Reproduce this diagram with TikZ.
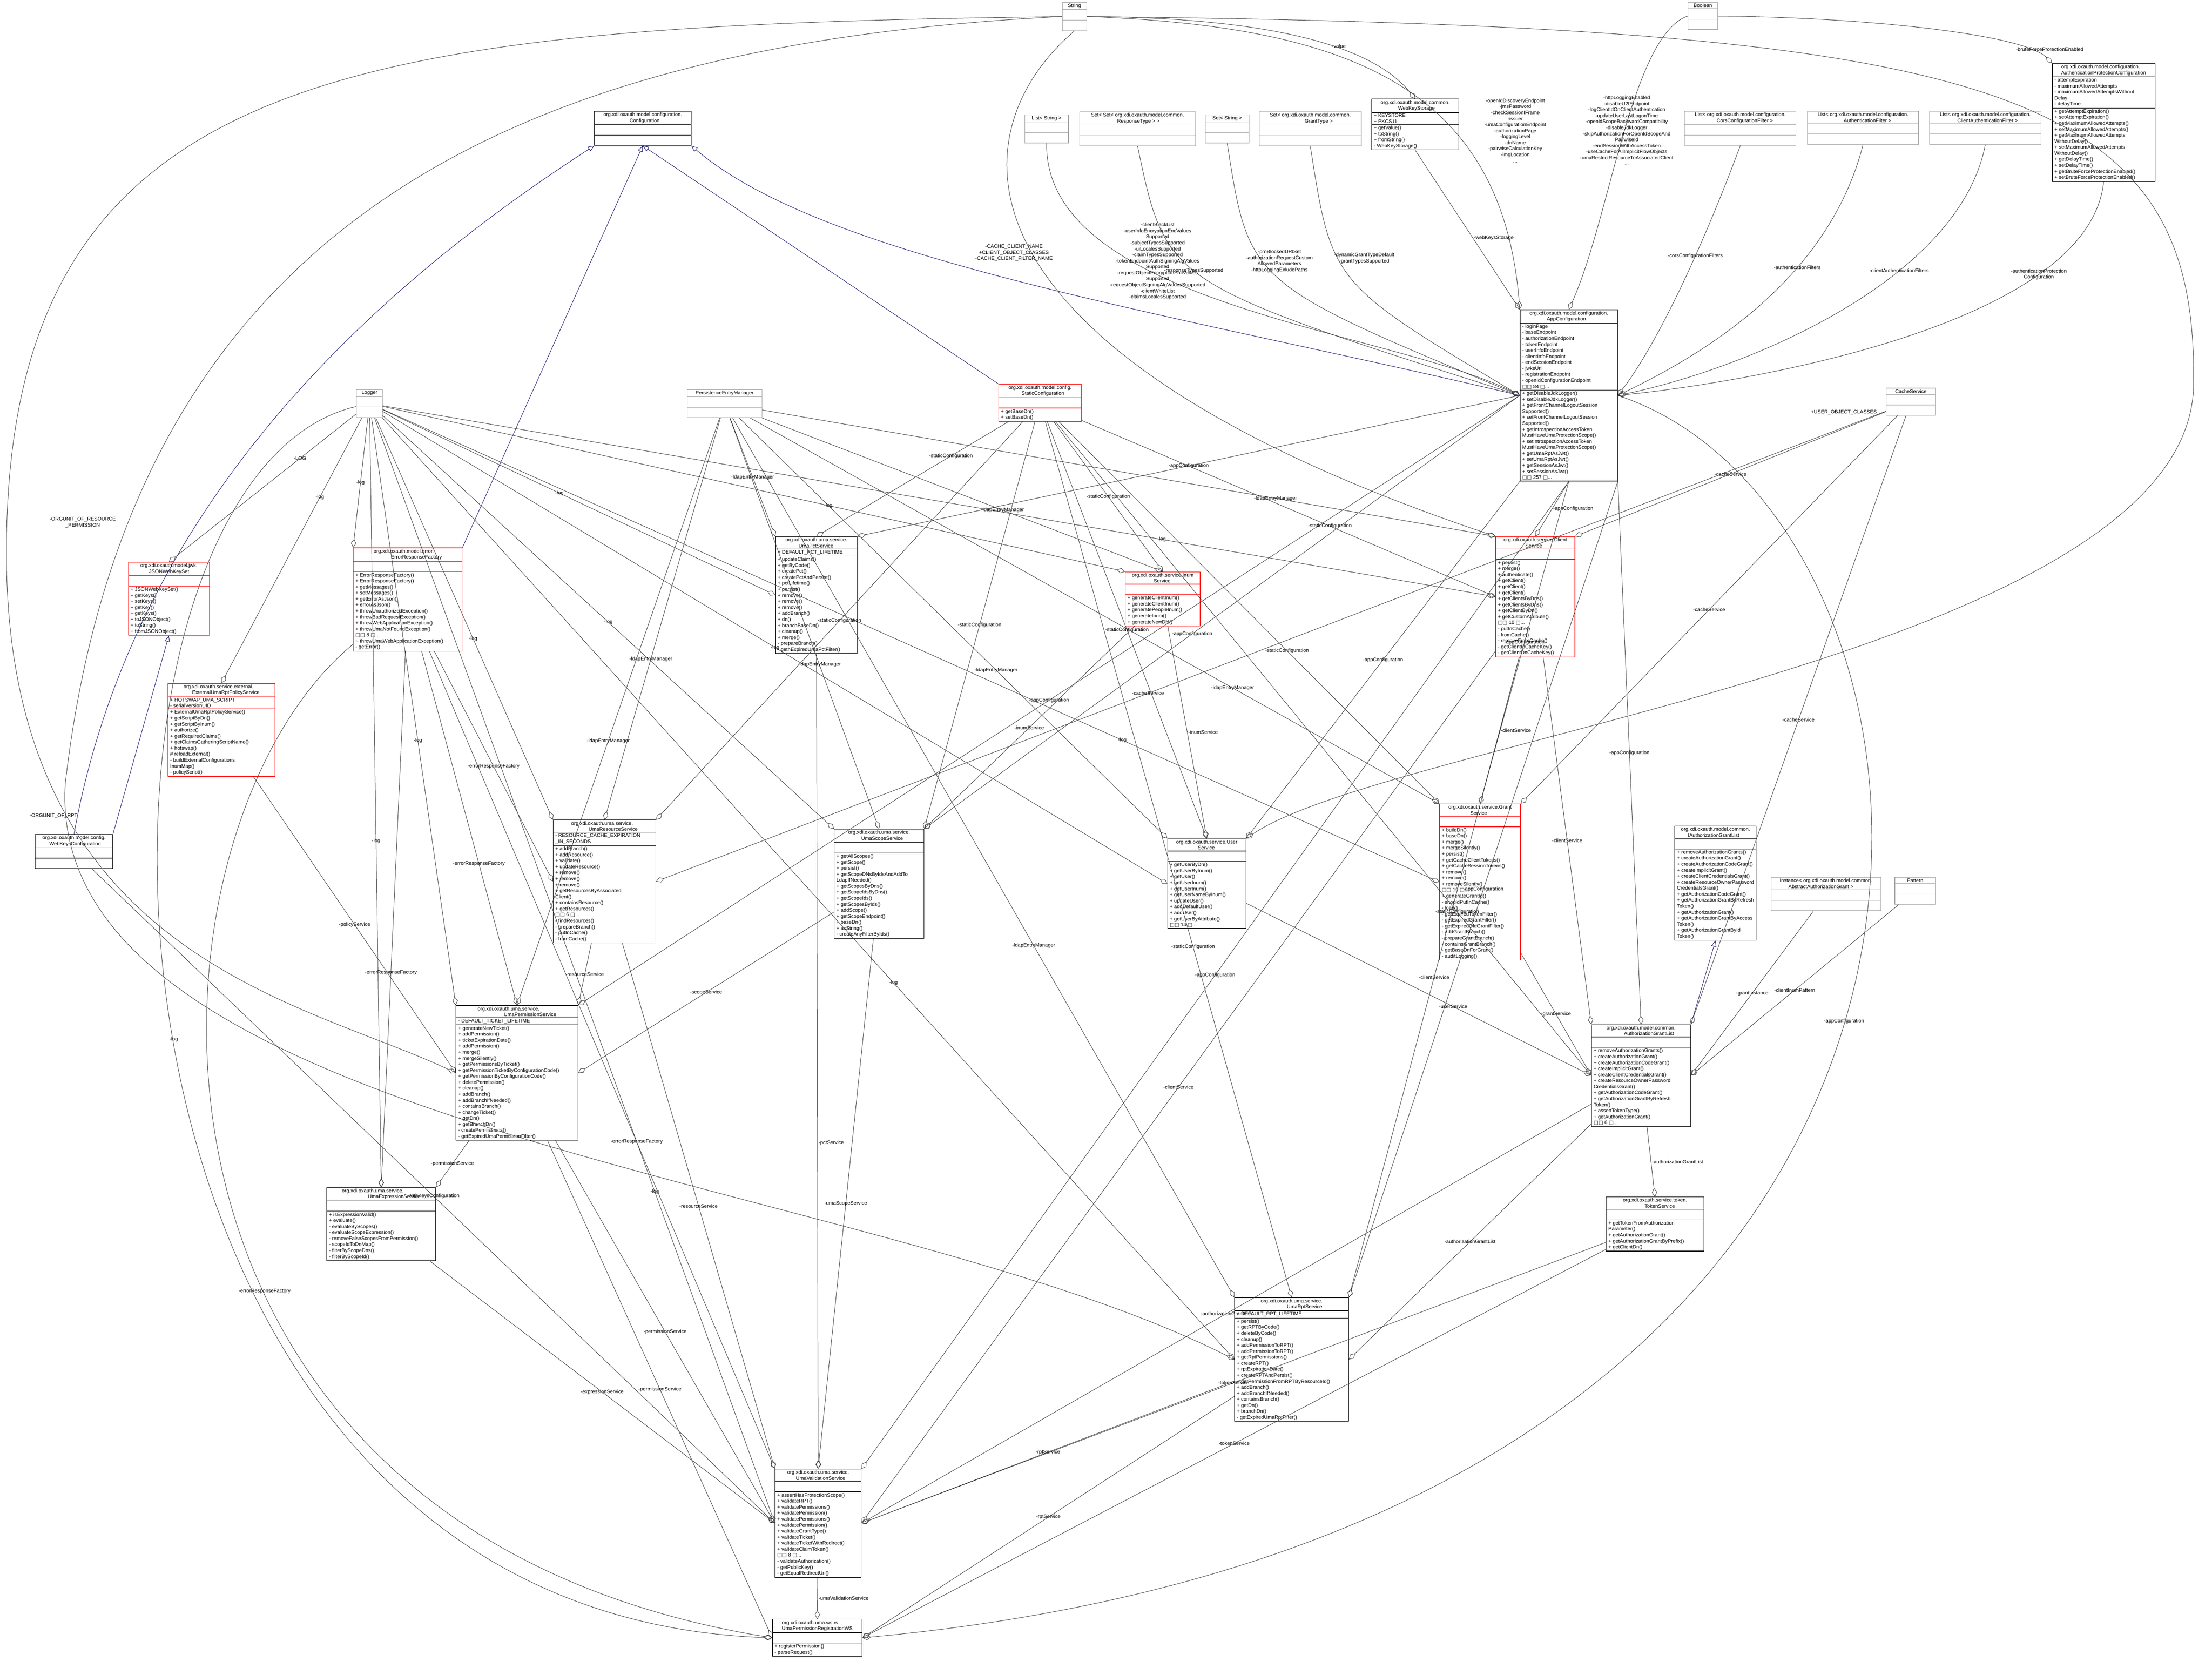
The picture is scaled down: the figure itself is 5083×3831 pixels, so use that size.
\documentclass[tikz,border=0pt]{standalone}
\usepackage{fontspec}
\setmainfont{Liberation Sans}
\newfontfamily\dv{DejaVu Sans}
\usetikzlibrary{shapes.multipart,arrows.meta}
\newcommand\fs{\fontsize{5.8}{6.9}\selectfont}
\newcommand\ov[1]{{\dv □□} #1 {\dv □}...}
\newcommand\emp{\rule{0pt}{9pt}}
\definecolor{gen}{RGB}{25,25,112}
\definecolor{ln}{RGB}{64,64,64}
\tikzset{
 cls/.style={rectangle split, rectangle split parts=3, draw=black, line width=0.6pt, font=\fs,
   inner xsep=2.5pt, inner ysep=1.2pt, align=left, fill=white, anchor=north,
   rectangle split part align={center,left,left}},
 redc/.style={cls, draw=red},
 grayc/.style={cls, draw=black!35},
 wsc/.style={cls, rectangle split part fill={black!25}},
 agg/.style={draw=ln, line width=0.5pt, -{Diamond[open,length=10pt,width=6pt]}},
 gen/.style={draw=gen, line width=0.5pt, -{Triangle[open,length=7pt,width=6pt]}},
 lbl/.style={font=\fs, align=center, inner sep=1pt},
}
\begin{document}
\begin{tikzpicture}[x=0.5pt,y=-0.5pt]
\useasboundingbox (0,0) rectangle (5083,3831);
% ---------- top row
\node[grayc, minimum width=28pt] (String) at (2469,5) {String\nodepart{two}\emp\nodepart{three}\emp};
\node[grayc, minimum width=34pt] (Boolean) at (3913,5) {Boolean\nodepart{two}\emp\nodepart{three}\emp};
\node[grayc, minimum width=50pt] (ListStr) at (2405,263) {List\textless{} String \textgreater\nodepart{two}\emp\nodepart{three}\emp};
\node[grayc, minimum width=133pt] (SetSet) at (2614,256) {Set\textless{} Set\textless{} org.xdi.oxauth.model.common.\\\hspace*{30pt}ResponseType \textgreater{} \textgreater\nodepart{two}\emp\nodepart{three}\emp};
\node[grayc, minimum width=50pt] (SetStr) at (2820,263) {Set\textless{} String \textgreater\nodepart{two}\emp\nodepart{three}\emp};
\node[grayc, minimum width=117pt] (SetGrant) at (3011,256) {Set\textless{} org.xdi.oxauth.model.common.\\\hspace*{40pt}GrantType \textgreater\nodepart{two}\emp\nodepart{three}\emp};
\node[cls, minimum width=100pt] (WKS) at (3252,227) {org.xdi.oxauth.model.common.\\\hspace*{20pt}WebKeyStorage\nodepart{two}+ KEYSTORE\\+ PKCS11\nodepart{three}+ getValue()\\+ toString()\\+ fromString()\\- WebKeyStorage()};
\node[grayc, minimum width=128pt] (Cors) at (3999,255) {List\textless{} org.xdi.oxauth.model.configuration.\\\hspace*{25pt}CorsConfigurationFilter \textgreater\nodepart{two}\emp\nodepart{three}\emp};
\node[grayc, minimum width=128pt] (AuthF) at (4281,255) {List\textless{} org.xdi.oxauth.model.configuration.\\\hspace*{30pt}AuthenticationFilter \textgreater\nodepart{two}\emp\nodepart{three}\emp};
\node[grayc, minimum width=128pt] (CAuthF) at (4562,255) {List\textless{} org.xdi.oxauth.model.configuration.\\\hspace*{20pt}ClientAuthenticationFilter \textgreater\nodepart{two}\emp\nodepart{three}\emp};
\node[cls, minimum width=118pt] (AuthProt) at (4834,145) {org.xdi.oxauth.model.configuration.\\AuthenticationProtectionConfiguration\nodepart{two}- attemptExpiration\\- maximumAllowedAttempts\\- maximumAllowedAttemptsWithout\\Delay\\- delayTime\nodepart{three}+ getAttemptExpiration()\\+ setAttemptExpiration()\\+ getMaximumAllowedAttempts()\\+ setMaximumAllowedAttempts()\\+ getMaximumAllowedAttempts\\WithoutDelay()\\+ setMaximumAllowedAttempts\\WithoutDelay()\\+ getDelayTime()\\+ setDelayTime()\\+ getBruteForceProtectionEnabled()\\+ setBruteForceProtectionEnabled()};
\node[cls, minimum width=111pt] (Configuration) at (1477,255) {org.xdi.oxauth.model.configuration.\\\hspace*{30pt}Configuration\nodepart{two}\emp\nodepart{three}\emp};
% ---------- middle
\node[grayc, minimum width=30pt] (Logger) at (849,894) {Logger\nodepart{two}\emp\nodepart{three}\emp};
\node[grayc, minimum width=86pt] (PEM) at (1665,894) {PersistenceEntryManager\nodepart{two}\emp\nodepart{three}\emp};
\node[redc, minimum width=95pt] (StaticConf) at (2390,882) {org.xdi.oxauth.model.config.\\\hspace*{15pt}StaticConfiguration\nodepart{two}\emp\nodepart{three}+ getBaseDn()\\+ setBaseDn()};
\node[grayc, minimum width=57pt] (Cache) at (4391,891) {CacheService\nodepart{two}\emp\nodepart{three}\emp};
\node[cls, minimum width=112pt] (AppConf) at (3605,711) {org.xdi.oxauth.model.configuration.\\\hspace*{20pt}AppConfiguration\nodepart{two}- loginPage\\- baseEndpoint\\- authorizationEndpoint\\- tokenEndpoint\\- userInfoEndpoint\\- clientInfoEndpoint\\- endSessionEndpoint\\- jwksUri\\- registrationEndpoint\\- openIdConfigurationEndpoint\\\ov{84}\nodepart{three}+ getDisableJdkLogger()\\+ setDisableJdkLogger()\\+ getFrontChannelLogoutSession\\Supported()\\+ setFrontChannelLogoutSession\\Supported()\\+ getIntrospectionAccessToken\\MustHaveUmaProtectionScope()\\+ setIntrospectionAccessToken\\MustHaveUmaProtectionScope()\\+ getUmaRptAsJwt()\\+ setUmaRptAsJwt()\\+ getSessionAsJwt()\\+ setSessionAsJwt()\\\ov{257}};
\node[redc, minimum width=91pt] (ClientS) at (3528,1232) {org.xdi.oxauth.service.Client\\\hspace*{25pt}Service\nodepart{two}\emp\nodepart{three}+ persist()\\+ merge()\\+ authenticate()\\+ getClient()\\+ getClient()\\+ getClient()\\+ getClientsByDns()\\+ getClientsByDns()\\+ getClientByDn()\\+ getCustomAttribute()\\\ov{10}\\- putInCache()\\- fromCache()\\- removeFromCache()\\- getClientIdCacheKey()\\- getClientDnCacheKey()};
\node[redc, minimum width=86pt] (Inum) at (2672,1313) {org.xdi.oxauth.service.Inum\\\hspace*{25pt}Service\nodepart{two}\emp\nodepart{three}+ generateClientInum()\\+ generateClientInum()\\+ generatePeopleInum()\\+ generateInum()\\+ generateNewDN()};
\node[cls, minimum width=94pt] (Pct) at (1876,1232) {org.xdi.oxauth.uma.service.\\\hspace*{15pt}UmaPctService\nodepart{two}+ DEFAULT\_PCT\_LIFETIME\nodepart{three}+ updateClaims()\\+ getByCode()\\+ createPct()\\+ createPctAndPersist()\\+ pctLifetime()\\+ persist()\\+ remove()\\+ remove()\\+ remove()\\+ addBranch()\\+ dn()\\+ branchBaseDn()\\+ cleanup()\\+ merge()\\- prepareBranch()\\- gethExpiredUmaPctFilter()};
\node[redc, minimum width=125pt] (ErrResp) at (937,1258) {org.xdi.oxauth.model.error.\\\hspace*{20pt}ErrorResponseFactory\nodepart{two}\emp\nodepart{three}+ ErrorResponseFactory()\\+ ErrorResponseFactory()\\+ getMessages()\\+ setMessages()\\+ getErrorAsJson()\\+ errorAsJson()\\+ throwUnauthorizedException()\\+ throwBadRequestException()\\+ throwWebApplicationException()\\+ throwUmaNotFoundException()\\\ov{8}\\\textasciitilde{} throwUmaWebApplicationException()\\- getError()};
\node[redc, minimum width=93pt] (JWKS) at (388,1291) {org.xdi.oxauth.model.jwk.\\\hspace*{10pt}JSONWebKeySet\nodepart{two}\emp\nodepart{three}+ JSONWebKeySet()\\+ getKeys()\\+ setKeys()\\+ getKey()\\+ getKeys()\\+ toJSONObject()\\+ toString()\\+ fromJSONObject()};
\node[redc, minimum width=123pt] (ExtRpt) at (509,1569) {org.xdi.oxauth.service.external.\\\hspace*{10pt}ExternalUmaRptPolicyService\nodepart{two}+ HOTSWAP\_UMA\_SCRIPT\\- serialVersionUID\nodepart{three}+ ExternalUmaRptPolicyService()\\+ getScriptByDn()\\+ getScriptByInum()\\+ authorize()\\+ getRequiredClaims()\\+ getClaimsGatheringScriptName()\\+ hotswap()\\\# reloadExternal()\\- buildExternalConfigurations\\InumMap()\\- policyScript()};
\node[cls, minimum width=89pt] (WKC) at (170,1916) {org.xdi.oxauth.model.config.\\\hspace*{8pt}WebKeysConfiguration\nodepart{two}\emp\nodepart{three}\emp};
\node[cls, minimum width=118pt] (Res) at (1389,1883) {org.xdi.oxauth.uma.service.\\\hspace*{20pt}UmaResourceService\nodepart{two}- RESOURCE\_CACHE\_EXPIRATION\\\_IN\_SECONDS\nodepart{three}+ addBranch()\\+ addResource()\\+ validate()\\+ updateResource()\\+ remove()\\+ remove()\\+ remove()\\+ getResourcesByAssociated\\Client()\\+ containsResource()\\+ getResources()\\\ov{6}\\- findResources()\\- prepareBranch()\\- putInCache()\\- fromCache()};
\node[cls, minimum width=103pt] (Scope) at (2020,1904) {org.xdi.oxauth.uma.service.\\\hspace*{15pt}UmaScopeService\nodepart{two}\emp\nodepart{three}+ getAllScopes()\\+ getScope()\\+ persist()\\+ getScopeDNsByIdsAndAddTo\\LdapIfNeeded()\\+ getScopesByDns()\\+ getScopeIdsByDns()\\+ getScopeIds()\\+ getScopesByIds()\\+ addScope()\\+ getScopeEndpoint()\\+ baseDn()\\+ asString()\\- createAnyFilterByIds()};
\node[cls, minimum width=90pt] (User) at (2773,1926) {org.xdi.oxauth.service.User\\\hspace*{25pt}Service\nodepart{two}\emp\nodepart{three}+ getUserByDn()\\+ getUserByInum()\\+ getUser()\\+ getUserInum()\\+ getUserInum()\\+ getUserNameByInum()\\+ updateUser()\\+ addDefaultUser()\\+ addUser()\\+ getUserByAttribute()\\\ov{14}};
\node[redc, minimum width=93pt] (Grant) at (3401,1846) {org.xdi.oxauth.service.Grant\\\hspace*{25pt}Service\nodepart{two}\emp\nodepart{three}+ buildDn()\\+ baseDn()\\+ merge()\\+ mergeSilently()\\+ persist()\\+ getCacheClientTokens()\\+ getCacheSessionTokens()\\+ remove()\\+ remove()\\+ removeSilently()\\\ov{19}\\+ generateGrantId()\\- shouldPutInCache()\\- load()\\- getExpiredTokenFilter()\\- getExpiredGrantFilter()\\- getExpiredOldGrantFilter()\\- addGrantBranch()\\- prepareGrantBranch()\\- containsGrantBranch()\\- getBaseDnForGrant()\\- auditLogging()};
\node[cls, minimum width=91pt] (IAGL) at (3942,1897) {org.xdi.oxauth.model.common.\\\hspace*{8pt}IAuthorizationGrantList\nodepart{two}\emp\nodepart{three}+ removeAuthorizationGrants()\\+ createAuthorizationGrant()\\+ createAuthorizationCodeGrant()\\+ createImplicitGrant()\\+ createClientCredentialsGrant()\\+ createResourceOwnerPassword\\CredentialsGrant()\\+ getAuthorizationCodeGrant()\\+ getAuthorizationGrantByRefresh\\Token()\\+ getAuthorizationGrant()\\+ getAuthorizationGrantByAccess\\Token()\\+ getAuthorizationGrantById\\Token()};
\node[grayc, minimum width=126pt] (Inst) at (4196,2015) {Instance\textless{} org.xdi.oxauth.model.common.\\\hspace*{10pt}AbstractAuthorizationGrant \textgreater\nodepart{two}\emp\nodepart{three}\emp};
\node[grayc, minimum width=47pt] (Pattern) at (4401,2015) {Pattern\nodepart{two}\emp\nodepart{three}\emp};
\node[cls, minimum width=114pt] (AGL) at (3771,2353) {org.xdi.oxauth.model.common.\\\hspace*{20pt}AuthorizationGrantList\nodepart{two}\emp\nodepart{three}+ removeAuthorizationGrants()\\+ createAuthorizationGrant()\\+ createAuthorizationCodeGrant()\\+ createImplicitGrant()\\+ createClientCredentialsGrant()\\+ createResourceOwnerPassword\\CredentialsGrant()\\+ getAuthorizationCodeGrant()\\+ getAuthorizationGrantByRefresh\\Token()\\+ assertTokenType()\\+ getAuthorizationGrant()\\\ov{6}};
\node[cls, minimum width=112pt] (Token) at (3803,2749) {org.xdi.oxauth.service.token.\\\hspace*{25pt}TokenService\nodepart{two}\emp\nodepart{three}+ getTokenFromAuthorization\\Parameter()\\+ getAuthorizationGrant()\\+ getAuthorizationGrantByPrefix()\\+ getClientDn()};
\node[cls, minimum width=140pt] (Perm) at (1188,2309) {org.xdi.oxauth.uma.service.\\\hspace*{30pt}UmaPermissionService\nodepart{two}- DEFAULT\_TICKET\_LIFETIME\nodepart{three}+ generateNewTicket()\\+ addPermission()\\+ ticketExpirationDate()\\+ addPermission()\\+ merge()\\+ mergeSilently()\\+ getPermissionsByTicket()\\+ getPermissionTicketByConfigurationCode()\\+ getPermissionByConfigurationCode()\\+ deletePermission()\\+ cleanup()\\+ addBranch()\\+ addBranchIfNeeded()\\+ containsBranch()\\+ changeTicket()\\+ getDn()\\+ getBranchDn()\\- createPermissions()\\- getExpiredUmaPermissionFilter()};
\node[cls, minimum width=125pt] (Expr) at (876,2727) {org.xdi.oxauth.uma.service.\\\hspace*{30pt}UmaExpressionService\nodepart{two}\emp\nodepart{three}+ isExpressionValid()\\+ evaluate()\\- evaluateByScopes()\\- evaluateScopeExpression()\\- removeFalseScopesFromPermission()\\- scopeIdToDnMap()\\- filterByScopeDns()\\- filterByScopeId()};
\node[cls, minimum width=131pt] (Rpt) at (2968,2980) {org.xdi.oxauth.uma.service.\\\hspace*{30pt}UmaRptService\nodepart{two}+ DEFAULT\_RPT\_LIFETIME\nodepart{three}+ persist()\\+ getRPTByCode()\\+ deleteByCode()\\+ cleanup()\\+ addPermissionToRPT()\\+ addPermissionToRPT()\\+ getRptPermissions()\\+ createRPT()\\+ rptExpirationDate()\\+ createRPTAndPersist()\\+ getPermissionFromRPTByResourceId()\\+ addBranch()\\+ addBranchIfNeeded()\\+ containsBranch()\\+ getDn()\\+ branchDn()\\- getExpiredUmaRptFilter()};
\node[cls, minimum width=99pt] (Val) at (1880,3374) {org.xdi.oxauth.uma.service.\\\hspace*{10pt}UmaValidationService\nodepart{two}\emp\nodepart{three}+ assertHasProtectionScope()\\+ validateRPT()\\+ validatePermissions()\\+ validatePermission()\\+ validatePermissions()\\+ validatePermission()\\+ validateGrantType()\\+ validateTicket()\\+ validateTicketWithRedirect()\\+ validateClaimToken()\\\ov{8}\\- validateAuthorization()\\- getPublicKey()\\- getEqualRedirectUri()};
\node[wsc, minimum width=103pt] (WS) at (1878,3719) {org.xdi.oxauth.uma.ws.rs.\\UmaPermissionRegistrationWS\nodepart{two}\emp\nodepart{three}+ registerPermission()\\- parseRequest()};
% ---------- generalizations
\draw[gen] (AppConf.west) .. controls (2700,720) and (1900,600) .. (Configuration.south east);
\draw[gen] (StaticConf.north west) -- (Configuration.south);
\draw[gen] (WKC.north) .. controls (300,1200) and (800,700) .. (Configuration.south west);
\draw[gen] (ErrResp.north east) -- (Configuration.south);
\draw[gen] (WKC.north east) -- (JWKS.south);
\draw[gen] (AGL.north east) -- (IAGL.south);
% ---------- aggregations into AppConfiguration
\draw[agg] (String.east) .. controls (3100,60) and (3450,200) .. (AppConf.north west);
\node[lbl] (l1) at (3482,300) {-openIdDiscoveryEndpoint\\-jmsPassword\\-checkSessionIFrame\\-issuer\\-umaConfigurationEndpoint\\-authorizationPage\\-loggingLevel\\-dnName\\-pairwiseCalculationKey\\-imgLocation\\...};
\draw[agg] (Boolean.west) .. controls (3750,80) and (3700,500) .. (AppConf.north);
\node[lbl] (l2) at (3738,300) {-httpLoggingEnabled\\-disableU2fEndpoint\\-logClientIdOnClientAuthentication\\-updateUserLastLogonTime\\-openidScopeBackwardCompatibility\\-disableJdkLogger\\-skipAuthorizationForOpenIdScopeAnd\\PairwiseId\\-endSessionWithAccessToken\\-useCacheForAllImplicitFlowObjects\\-umaRestrictResourceToAssociatedClient\\...};
\draw[agg] (ListStr.south) .. controls (2400,700) and (3200,760) .. (AppConf.west);
\node[lbl] (l3) at (2660,600) {-clientBlackList\\-userInfoEncryptionEncValues\\Supported\\-subjectTypesSupported\\-uiLocalesSupported\\-claimTypesSupported\\-tokenEndpointAuthSigningAlgValues\\Supported\\-requestObjectEncryptionEncValues\\Supported\\-requestObjectSigningAlgValuesSupported\\-clientWhiteList\\-claimsLocalesSupported};
\draw[agg] (SetSet.south) .. controls (2680,650) .. (AppConf.west) node[lbl, pos=0.45] {-responseTypesSupported};
\draw[agg] (SetStr.south) .. controls (2870,650) .. (AppConf.west);
\node[lbl] (l5) at (2940,600) {-prnBlockedURISet\\-authorizationRequestCustom\\AllowedParameters\\-httpLoggingExludePaths};
\draw[agg] (SetGrant.south) .. controls (3060,650) .. (AppConf.west);
\node[lbl] (l6) at (3135,593) {-dynamicGrantTypeDefault\\-grantTypesSupported};
\draw[agg] (WKS.south) -- (AppConf.north west) node[lbl, pos=0.55, right] {-webKeysStorage};
\draw[agg] (Cors.south) .. controls (3900,600) and (3800,800) .. (AppConf.east) node[lbl, pos=0.35] {-corsConfigurationFilters};
\draw[agg] (AuthF.south) .. controls (4200,650) and (3900,820) .. (AppConf.east) node[lbl, pos=0.35] {-authenticationFilters};
\draw[agg] (CAuthF.south) .. controls (4500,650) and (4000,850) .. (AppConf.east) node[lbl, pos=0.35] {-clientAuthenticationFilters};
\draw[agg] (AuthProt.south) .. controls (4800,750) and (4000,880) .. (AppConf.east) node[lbl, pos=0.25] {-authenticationProtection\\Configuration};
\draw[agg] (Boolean.east) .. controls (4300,40) and (4650,80) .. (AuthProt.north west);
\node[lbl] (l12) at (4710,113) {-bruteForceProtectionEnabled};
\draw[agg] (String.east) .. controls (2900,40) and (3150,100) .. (WKS.north) node[lbl, pos=0.6, right] {-value};
\draw[agg] (String.south) .. controls (2200,300) and (2150,800) .. (ClientS.north west);
\node[lbl] (l14) at (2330,581) {-CACHE\_CLIENT\_NAME\\+CLIENT\_OBJECT\_CLASSES\\-CACHE\_CLIENT\_FILTER\_NAME};
\draw[agg] (String.east) .. controls (4600,60) and (5060,200) .. (5040,900) .. controls (5000,1500) and (3200,1700) .. (User.north east);
\node[lbl] (l15) at (4237,947) {+USER\_OBJECT\_CLASSES};
\draw[agg] (String.west) .. controls (800,60) and (0,150) .. (15,1300) .. controls (30,2200) and (700,2300) .. (Perm.west);
\node[lbl] (l16) at (190,1200) {-ORGUNIT\_OF\_RESOURCE\\\_PERMISSION};
\draw[agg] (String.west) .. controls (1200,100) and (300,500) .. (150,1800) .. controls (100,2600) and (2000,2700) .. (Rpt.west);
\node[lbl] (l17) at (123,1874) {-ORGUNIT\_OF\_RPT};
% ---------- Logger
\draw[agg] (Logger) -- node[lbl, pos=0.3] {-LOG} (JWKS.north);
\draw[agg] (Logger) -- node[lbl, pos=0.3] {-log} (ExtRpt.north);
\draw[agg] (Logger) -- node[lbl, pos=0.5] {-log} (ErrResp.north west);
\draw[agg] (Logger) -- node[lbl, pos=0.55] {-log} (Perm.north west);
\draw[agg] (Logger) -- node[lbl, pos=0.55] {-log} (Expr.north);
\draw[agg] (Logger) -- node[lbl, pos=0.55] {-log} (Res.north west);
\draw[agg] (Logger) -- node[lbl, pos=0.45] {-log} (Pct.west);
\draw[agg] (Logger) -- node[lbl, pos=0.5] {-log} (Scope.north west);
\draw[agg] (Logger) -- node[lbl, pos=0.5] {-log} (User.west);
\draw[agg] (Logger) -- node[lbl, pos=0.7] {-log} (ClientS.west);
\draw[agg] (Logger) -- node[lbl, pos=0.7] {-log} (Grant.west);
\draw[agg] (Logger) -- node[lbl, pos=0.6] {-log} (Rpt.west);
\draw[agg] (Logger) -- node[lbl, pos=0.7] {-log} (Val.west);
\draw[agg] (Logger) .. controls (100,1100) and (100,3700) .. node[lbl, pos=0.5] {-log} (WS.west);
\draw[agg] (Logger) -- node[lbl, pos=0.6] {-log} (Inum.north west);
% ---------- PersistenceEntryManager
\draw[agg] (PEM) -- node[lbl, pos=0.5] {-ldapEntryManager} (Pct.north west);
\draw[agg] (PEM) -- node[lbl, pos=0.6] {-ldapEntryManager} (Res.north);
\draw[agg] (PEM) -- node[lbl, pos=0.6] {-ldapEntryManager} (Scope.north);
\draw[agg] (PEM) -- node[lbl, pos=0.6] {-ldapEntryManager} (User.north west);
\draw[agg] (PEM) -- node[lbl, pos=0.7] {-ldapEntryManager} (ClientS.north west);
\draw[agg] (PEM) -- node[lbl, pos=0.7] {-ldapEntryManager} (Grant.north west);
\draw[agg] (PEM) -- node[lbl, pos=0.6] {-ldapEntryManager} (Inum.north);
\draw[agg] (PEM) -- node[lbl, pos=0.6] {-ldapEntryManager} (Rpt.north west);
\draw[agg] (PEM) -- node[lbl, pos=0.55] {-ldapEntryManager} (Perm.north);
% ---------- StaticConfiguration
\draw[agg] (StaticConf) -- node[lbl, pos=0.3] {-staticConfiguration} (Pct.north);
\draw[agg] (StaticConf) -- node[lbl, pos=0.5] {-staticConfiguration} (Res.north east);
\draw[agg] (StaticConf) -- node[lbl, pos=0.5] {-staticConfiguration} (Scope.north east);
\draw[agg] (StaticConf) -- node[lbl, pos=0.5] {-staticConfiguration} (User.north);
\draw[agg] (StaticConf) -- node[lbl, pos=0.6] {-staticConfiguration} (ClientS.west);
\draw[agg] (StaticConf) -- node[lbl, pos=0.6] {-staticConfiguration} (Grant.north west);
\draw[agg] (StaticConf) -- node[lbl, pos=0.5] {-staticConfiguration} (Inum.north);
\draw[agg] (StaticConf) -- node[lbl, pos=0.6] {-staticConfiguration} (Rpt.north);
\draw[agg] (StaticConf) -- node[lbl, pos=0.75] {-staticConfiguration} (AGL.west);
% ---------- AppConfiguration
\draw[agg] (AppConf.south) -- node[lbl, pos=0.5, right] {-appConfiguration} (ClientS.north);
\draw[agg] (AppConf.west) -- node[lbl, pos=0.5] {-appConfiguration} (Pct.north east);
\draw[agg] (AppConf.south) -- node[lbl, pos=0.5] {-appConfiguration} (Grant.north);
\draw[agg] (AppConf.south west) -- node[lbl, pos=0.5] {-appConfiguration} (User.north east);
\draw[agg] (AppConf.south east) -- node[lbl, pos=0.5] {-appConfiguration} (AGL.north);
\draw[agg] (AppConf.south east) -- node[lbl, pos=0.5] {-appConfiguration} (Rpt.north east);
\draw[agg] (AppConf.south) -- node[lbl, pos=0.5] {-appConfiguration} (Val.north east);
\draw[agg] (AppConf.east) .. controls (4600,1200) and (4800,3500) .. node[lbl, pos=0.5] {-appConfiguration} (WS.east);
\draw[agg] (AppConf.west) -- node[lbl, pos=0.55] {-appConfiguration} (Scope.north east);
\draw[agg] (AppConf.west) -- node[lbl, pos=0.5] {-appConfiguration} (Perm.north east);
% ---------- CacheService
\draw[agg] (Cache) -- node[lbl, pos=0.5] {-cacheService} (ClientS.north east);
\draw[agg] (Cache) -- node[lbl, pos=0.5] {-cacheService} (Grant.north east);
\draw[agg] (Cache) -- node[lbl, pos=0.6] {-cacheService} (Res.east);
\draw[agg] (Cache) -- node[lbl, pos=0.5] {-cacheService} (AGL.north east);
% ---------- ErrorResponseFactory
\draw[agg] (ErrResp) -- node[lbl, pos=0.5] {-errorResponseFactory} (Res.west);
\draw[agg] (ErrResp) -- node[lbl, pos=0.6] {-errorResponseFactory} (Perm.north);
\draw[agg] (ErrResp) -- node[lbl, pos=0.6] {-errorResponseFactory} (Expr.north);
\draw[agg] (ErrResp) -- node[lbl, pos=0.6] {-errorResponseFactory} (Val.north west);
\draw[agg] (ErrResp) .. controls (300,1900) and (200,3500) .. node[lbl, pos=0.6] {-errorResponseFactory} (WS.west);
% ---------- other services
\draw[agg] (Inum) -- node[lbl, pos=0.5] {-inumService} (Scope.north east);
\draw[agg] (Inum) -- node[lbl, pos=0.5, right] {-inumService} (User.north);
\draw[agg] (ClientS) -- node[lbl, pos=0.5, right] {-clientService} (Grant.north);
\draw[agg] (ClientS) -- node[lbl, pos=0.5] {-clientService} (Rpt.north east);
\draw[agg] (ClientS) -- node[lbl, pos=0.5] {-clientService} (Val.east);
\draw[agg] (ClientS) -- node[lbl, pos=0.5] {-clientService} (AGL.north west);
\draw[agg] (Grant) -- node[lbl, pos=0.5] {-grantService} (AGL.west);
\draw[agg] (User) -- node[lbl, pos=0.6] {-userService} (AGL.west);
\draw[agg] (Inst) -- node[lbl, pos=0.5] {-grantInstance} (AGL.east);
\draw[agg] (Pattern) -- node[lbl, pos=0.5] {-clientInumPattern} (AGL.east);
\draw[agg] (AGL) -- node[lbl, pos=0.5, right] {-authorizationGrantList} (Token.north);
\draw[agg] (AGL) -- node[lbl, pos=0.5] {-authorizationGrantList} (Rpt.east);
\draw[agg] (AGL) -- node[lbl, pos=0.5] {-authorizationGrantList} (Val.east);
\draw[agg] (Token) -- node[lbl, pos=0.5] {-tokenService} (Val.east);
\draw[agg] (Token) -- node[lbl, pos=0.5] {-tokenService} (WS.east);
\draw[agg] (Scope) -- node[lbl, pos=0.5] {-scopeService} (Perm.east);
\draw[agg] (Scope) -- node[lbl, pos=0.5] {-umaScopeService} (Val.north);
\draw[agg] (Res) -- node[lbl, pos=0.5] {-resourceService} (Perm.north east);
\draw[agg] (Res) -- node[lbl, pos=0.5] {-resourceService} (Val.north west);
\draw[agg] (Pct) -- node[lbl, pos=0.6, right] {-pctService} (Val.north);
\draw[agg] (Perm) -- node[lbl, pos=0.5] {-permissionService} (Expr.north east);
\draw[agg] (Perm) -- node[lbl, pos=0.5] {-permissionService} (Val.west);
\draw[agg] (Perm) -- node[lbl, pos=0.5] {-permissionService} (WS.west);
\draw[agg] (Expr) -- node[lbl, pos=0.5] {-expressionService} (Val.west);
\draw[agg] (ExtRpt) -- node[lbl, pos=0.5] {-policyService} (Perm.west);
\draw[agg] (WKC) -- node[lbl, pos=0.5] {-webKeysConfiguration} (Val.west);
\draw[agg] (Rpt) -- node[lbl, pos=0.5] {-rptService} (Val.east);
\draw[agg] (Rpt) -- node[lbl, pos=0.5] {-rptService} (WS.east);
\draw[agg] (Val) -- node[lbl, pos=0.5, right] {-umaValidationService} (WS.north);
\end{tikzpicture}
\end{document}
